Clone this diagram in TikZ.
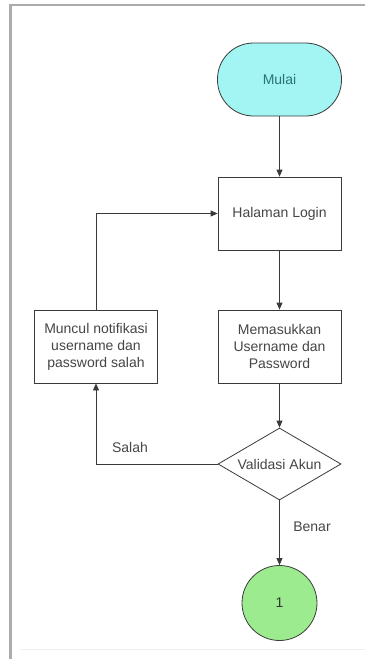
\documentclass[tikz,border=0pt]{standalone}
\usepackage{fontspec}
\setmainfont{Liberation Sans}
\usetikzlibrary{arrows.meta,shapes.geometric}
\definecolor{termfill}{HTML}{A2F5F2}
\definecolor{termtext}{HTML}{2C7373}
\definecolor{endfill}{HTML}{9DEB8F}
\definecolor{linecol}{HTML}{3A3A3A}
\definecolor{txtcol}{HTML}{454545}
\begin{document}
\begin{tikzpicture}[x=1pt,y=-1pt,
  base/.style={draw=linecol, line width=0.8pt, font=\fontsize{14}{17}\selectfont, text=txtcol, align=center, inner sep=0pt},
  proc/.style={base, rectangle, minimum width=123pt, minimum height=73pt},
  term/.style={base, rectangle, rounded corners=36pt, minimum width=124pt, minimum height=73pt, fill=termfill, text=termtext},
  dec/.style={base, diamond, shape aspect=1.7, minimum width=123pt, minimum height=72pt},
  conn/.style={base, circle, minimum size=75pt, fill=endfill, text=black!80},
  arr/.style={draw=linecol, line width=0.8pt, -{Triangle[width=6pt,length=7pt]}},
  lbl/.style={font=\fontsize{14}{17}\selectfont, text=txtcol, inner sep=0pt}
]
\useasboundingbox (0,0) rectangle (365,659);
% frame
\draw[gray!65, line width=2.2pt] (365,5) -- (10.5,5) -- (10.5,659);
\draw[gray!12, line width=1pt] (20,649) -- (365,649);

\node[term] (mulai) at (279.5,79.5) {Mulai};
\node[proc] (login) at (279.5,213.5) {Halaman Login};
\node[proc] (masuk) at (279.5,346.5) {Memasukkan\\Username dan\\Password};
\node[proc] (muncul) at (96,346.5) {Muncul notifikasi\\username dan\\password salah};
\node[dec] (valid) at (279.5,464) {Validasi Akun};
\node[conn] (satu) at (279.5,603) {1};

\draw[arr] (mulai) -- (login);
\draw[arr] (login) -- (masuk);
\draw[arr] (masuk) -- (valid);
\draw[arr] (valid.west) -| (muncul.south);
\draw[arr] (muncul.north) |- (login.west);
\draw[arr] (valid) -- (satu);

\node[lbl] (salah) at (130,447) {Salah};
\node[lbl] (benar) at (312,527) {Benar};
\end{tikzpicture}
\end{document}
